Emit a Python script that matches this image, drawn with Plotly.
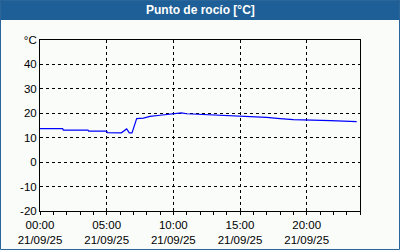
import plotly.graph_objects as go

# Data (hours since 00:00 on 21/09/25, dew point in °C)
hours = [0.0, 1.7, 1.75, 3.6, 3.65, 5.0, 5.05, 6.1, 6.5, 6.7, 6.9, 7.25, 7.75, 8.25, 9.0,
         9.5, 10.0, 10.6, 11.0, 12.5, 13.0, 14.0, 16.0, 17.0, 18.0, 19.0, 21.8, 23.75]
dew_point = [13.7, 13.7, 13.1, 13.1, 12.7, 12.7, 12.1, 12.0, 13.6, 12.0, 12.0, 17.8, 18.0, 18.7, 19.2,
             19.6, 19.9, 20.2, 19.8, 19.4, 19.2, 19.0, 18.7, 18.3, 17.8, 17.4, 17.0, 16.6]

x_tick_vals = [0, 5, 10, 15, 20]
x_tick_text = ["00:00<br>21/09/25", "05:00<br>21/09/25", "10:00<br>21/09/25",
               "15:00<br>21/09/25", "20:00<br>21/09/25"]
y_tick_vals = [-20, -10, 0, 10, 20, 30, 40, 50]
y_tick_text = ["-20", "-10", "0", "10", "20", "30", "40", "°C"]
title_text = "Punto de rocío [°C]"

W, H = 400, 250
ML, MR, MT, MB = 40, 40, 40, 39
PW, PH = W - ML - MR, H - MT - MB

def px_x(p):
    return (p - ML) / PW

def px_y(p):
    return 1 - (p - MT) / PH

BG = "#f9fcf9"
BLUE = "#1d5f96"
font = "Liberation Sans"

fig = go.Figure()
fig.add_trace(go.Scatter(x=hours, y=dew_point, mode="lines",
                         line=dict(color="#0000ff", width=1.2), hoverinfo="skip"))

fig.update_layout(
    width=W, height=H,
    margin=dict(l=ML, r=MR, t=MT, b=MB, pad=0, autoexpand=False),
    paper_bgcolor=BG, plot_bgcolor=BG,
    showlegend=False,
    font=dict(family=font, size=11.5, color="black"),
    xaxis=dict(range=[0, 24], tickmode="array", tickvals=x_tick_vals, ticktext=x_tick_text,
               showgrid=True, gridcolor="black", griddash="3px,3px", gridwidth=1,
               showline=True, linecolor="black", linewidth=1, mirror=True,
               ticks="outside", ticklen=3, tickcolor="black", automargin=False,
               minor=dict(tickmode="linear", tick0=0, dtick=1, ticks="outside", ticklen=3,
                          tickcolor="black", showgrid=False),
               zeroline=False, fixedrange=True),
    yaxis=dict(range=[-20, 50], tickmode="array", tickvals=y_tick_vals, ticktext=y_tick_text,
               showgrid=True, gridcolor="black", griddash="3px,3px", gridwidth=1,
               showline=True, linecolor="black", linewidth=1, mirror=True, automargin=False,
               ticks="", zeroline=False, fixedrange=True),
    shapes=[
        dict(type="rect", xref="paper", yref="paper",
             x0=px_x(0), x1=px_x(W), y0=px_y(20), y1=px_y(0),
             fillcolor=BLUE, line=dict(width=0), layer="above"),
        dict(type="rect", xref="paper", yref="paper",
             x0=px_x(0.5), x1=px_x(W - 0.5), y0=px_y(H - 0.5), y1=px_y(0.5),
             fillcolor="rgba(0,0,0,0)", line=dict(color="#2a6699", width=1), layer="above"),
    ],
    annotations=[
        dict(text="<b>" + title_text + "</b>", xref="paper", yref="paper",
             x=px_x(W / 2), y=px_y(10), xanchor="center", yanchor="middle",
             showarrow=False, font=dict(family=font, size=12, color="white")),
    ],
)

fig.write_html("out.html", config={"displayModeBar": False})
